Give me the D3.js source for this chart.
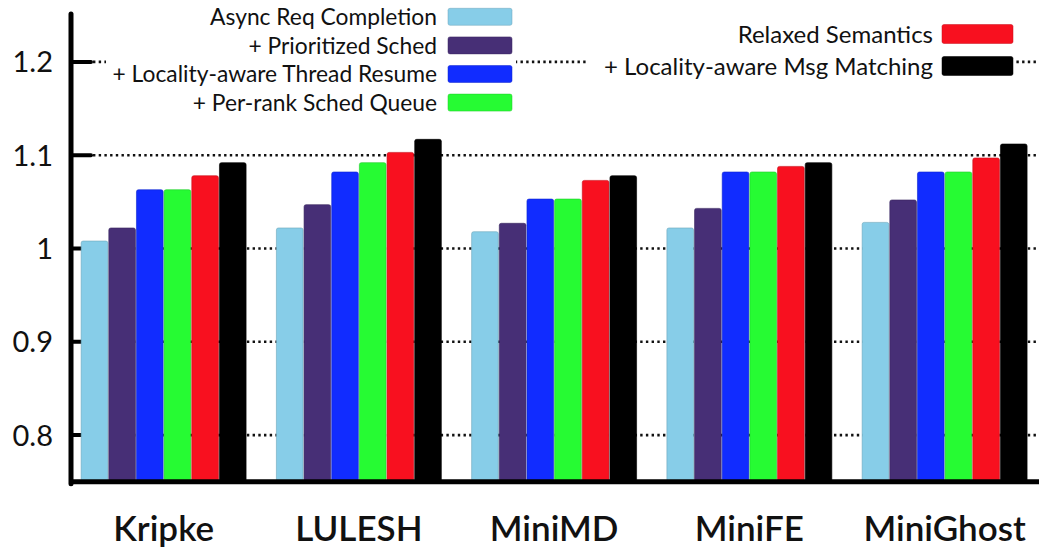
<!DOCTYPE html>
<html>
<head>
<meta charset="utf-8">
<script src="https://cdn.jsdelivr.net/npm/d3@7"></script>
<style>
  html, body { margin: 0; padding: 0; background: #fff; }
  svg { display: block; }
  text { font-family: Lato, "Open Sans", sans-serif; fill: #111; }
</style>
</head>
<body>
<svg id="chart" width="1039" height="550"></svg>
<script>
// Benchmarks on the x axis
const categories = ["Kripke", "LULESH", "MiniMD", "MiniFE", "MiniGhost"];

// Normalized speedup per optimization step
const asyncReq      = [1.008, 1.022, 1.018, 1.022, 1.028];
const prioritized   = [1.022, 1.047, 1.027, 1.043, 1.052];
const threadResume  = [1.063, 1.082, 1.053, 1.082, 1.082];
const perRankQueue  = [1.063, 1.092, 1.053, 1.082, 1.082];
const relaxed       = [1.078, 1.103, 1.073, 1.088, 1.097];
const msgMatching   = [1.092, 1.117, 1.078, 1.092, 1.112];

const seriesNames = [
  "Async Req Completion",
  "+ Prioritized Sched",
  "+ Locality-aware Thread Resume",
  "+ Per-rank Sched Queue",
  "Relaxed Semantics",
  "+ Locality-aware Msg Matching"
];
const seriesValues = [asyncReq, prioritized, threadResume, perRankQueue, relaxed, msgMatching];
const seriesColors = ["#87cde8", "#472f76", "#112cff", "#26fb33", "#f8101f", "#000000"];

const yTicks = [0.8, 0.9, 1.0, 1.1, 1.2];
const yTickLabels = ["0.8", "0.9", "1", "1.1", "1.2"];

const svg = d3.select("#chart");

const y = d3.scaleLinear().domain([0.75, 1.25]).range([481.75, 15.25]);

const x0 = d3.scaleBand()
  .domain(categories)
  .range([66, 1042.25])
  .paddingInner(0.15)
  .paddingOuter(0.075);

const x1 = d3.scaleBand()
  .domain(seriesNames)
  .range([0, x0.bandwidth()])
  .padding(0);

const axisX = 71;
const baseY = y(0.75);

// Dotted horizontal grid lines
svg.append("g").selectAll("line")
  .data(yTicks)
  .join("line")
  .attr("x1", 93).attr("x2", 1039)
  .attr("y1", d => y(d)).attr("y2", d => y(d))
  .attr("stroke", "#111")
  .attr("stroke-width", 2.6)
  .attr("stroke-dasharray", "2.4,3.3");

// Tick marks
svg.append("g").selectAll("line")
  .data(yTicks)
  .join("line")
  .attr("x1", axisX).attr("x2", 91)
  .attr("y1", d => y(d)).attr("y2", d => y(d))
  .attr("stroke", "#000")
  .attr("stroke-width", 4)
  .attr("stroke-linecap", "round");

// Bars
const groups = svg.append("g").selectAll("g")
  .data(categories)
  .join("g")
  .attr("transform", d => `translate(${x0(d)},0)`);

groups.selectAll("rect")
  .data((c, ci) => seriesNames.map((s, si) => ({ s, si, v: seriesValues[si][ci] })))
  .join("rect")
  .attr("x", d => x1(d.s) + 0.5)
  .attr("width", x1.bandwidth() - 1)
  .attr("y", d => y(d.v))
  .attr("height", d => baseY - y(d.v))
  .attr("rx", 2)
  .attr("fill", d => seriesColors[d.si])
  .attr("stroke", d => d3.color(seriesColors[d.si]).darker(0.6))
  .attr("stroke-opacity", 0.6)
  .attr("stroke-width", 1);

// Legends (two keys with opaque backgrounds)
function drawKey(indices, opts) {
  const g = svg.append("g");
  g.append("rect")
    .attr("x", opts.boxX).attr("y", opts.boxY)
    .attr("width", opts.boxW).attr("height", opts.boxH)
    .attr("fill", "#fff");
  indices.forEach((si, i) => {
    const cy = opts.y0 + i * opts.step;
    g.append("text")
      .attr("x", opts.textRight)
      .attr("y", cy)
      .attr("dy", "0.36em")
      .attr("text-anchor", "end")
      .attr("font-size", opts.fontSize)
      .text(seriesNames[si]);
    g.append("rect")
      .attr("x", opts.swX).attr("y", cy - opts.swH / 2)
      .attr("width", opts.swW).attr("height", opts.swH)
      .attr("rx", 2)
      .attr("fill", seriesColors[si])
      .attr("stroke", d3.color(seriesColors[si]).darker(0.6))
      .attr("stroke-opacity", 0.5);
  });
}

drawKey([0, 1, 2, 3], {
  boxX: 106, boxY: 4, boxW: 410, boxH: 114,
  y0: 16.8, step: 28.6, textRight: 437, fontSize: 22.8,
  swX: 448, swW: 64, swH: 17
});
drawKey([4, 5], {
  boxX: 588, boxY: 18, boxW: 428, boxH: 64,
  y0: 34, step: 32, textRight: 933, fontSize: 24,
  swX: 942, swW: 71, swH: 19
});

// Y axis line
svg.append("line")
  .attr("x1", axisX).attr("x2", axisX)
  .attr("y1", 14).attr("y2", baseY + 2)
  .attr("stroke", "#000").attr("stroke-width", 5)
  .attr("stroke-linecap", "round");

// X axis line
svg.append("line")
  .attr("x1", axisX - 2).attr("x2", 1039)
  .attr("y1", baseY).attr("y2", baseY)
  .attr("stroke", "#000").attr("stroke-width", 5);

// Y tick labels
svg.append("g").selectAll("text")
  .data(yTicks)
  .join("text")
  .attr("x", 53)
  .attr("y", d => y(d))
  .attr("dy", "0.36em")
  .attr("text-anchor", "end")
  .attr("font-size", 29)
  .text((d, i) => yTickLabels[i]);

// Category labels
svg.append("g").selectAll("text")
  .data(categories)
  .join("text")
  .attr("x", d => x0(d) + x0.bandwidth() / 2)
  .attr("y", 541)
  .attr("text-anchor", "middle")
  .attr("font-size", 35)
  .attr("font-weight", 600)
  .text(d => d);
</script>
</body>
</html>
